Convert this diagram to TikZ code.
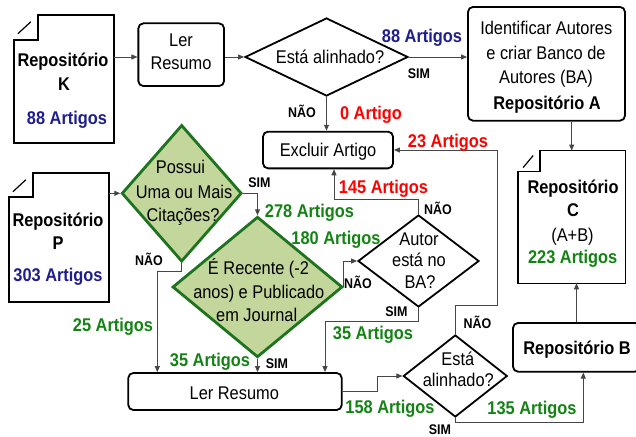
\documentclass[tikz,border=0pt]{standalone}
\usepackage{fontspec}
\setmainfont{Liberation Sans}[FakeStretch=0.89]
\usetikzlibrary{arrows.meta,shapes.geometric,calc}
\definecolor{lblblue}{RGB}{30,30,140}
\definecolor{lblred}{RGB}{255,0,0}
\definecolor{lblgreen}{RGB}{20,130,20}
\definecolor{dfill}{RGB}{195,214,155}
\definecolor{dborder}{RGB}{30,115,30}
\definecolor{conn}{RGB}{70,70,70}
\begin{document}
\begin{tikzpicture}[x=1pt,y=-1pt,
  txt/.style={inner sep=0pt,text height=13.2pt,text depth=0pt,font=\fontsize{18.4}{22}\selectfont},
  btxt/.style={txt,font=\fontsize{18.4}{22}\selectfont\bfseries},
  sml/.style={inner sep=0pt,text height=10pt,text depth=0pt,font=\fontsize{14}{16}\selectfont\bfseries},
  box/.style={draw=black,line width=1.8pt,rounded corners=5pt,inner sep=0pt},
  area/.style={draw=none,inner sep=0pt},
  docline/.style={draw=black,line width=1.5pt,line join=miter},
  gdia/.style={diamond,draw=dborder,fill=dfill,line width=2.8pt,inner sep=0pt},
  bdia/.style={diamond,draw=black,line width=1.8pt,inner sep=0pt},
  arr/.style={draw=conn,line width=0.9pt,-{Triangle[length=6pt,width=5pt]}},
]
\useasboundingbox (0,0) rectangle (636,436);
\fill[white] (0,0) rectangle (636,436);
\clip (0,0) rectangle (636,436);

% ---------- shapes ----------
\node[area,minimum width=100pt,minimum height=128pt] (K) at (64,79) {};
\draw[docline] ($(K.north west)+(24,0)$) -- (K.north east) -- (K.south east) -- (K.south west) -- ($(K.north west)+(0,25)$) -- ($(K.north west)+(24,25)$) -- cycle;
\draw[docline,line width=1.2pt] ($(K.north west)+(4,19)$) -- ($(K.north west)+(17,7)$);

\node[area,minimum width=100pt,minimum height=129pt] (P) at (59,237.5) {};
\draw[docline] ($(P.north west)+(24,0)$) -- (P.north east) -- (P.south east) -- (P.south west) -- ($(P.north west)+(0,24)$) -- ($(P.north west)+(24,24)$) -- cycle;
\draw[docline,line width=1.2pt] ($(P.north west)+(4,19)$) -- ($(P.north west)+(17,7)$);

\node[area,minimum width=106.7pt,minimum height=132.3pt] (RC) at (571.7,216.9) {};
\draw[docline] ($(RC.north west)+(22,0)$) -- (RC.north east) -- (RC.south east) -- (RC.south west) -- ($(RC.north west)+(0,21)$) -- ($(RC.north west)+(22,21)$) -- cycle;
\draw[docline,line width=1.2pt] ($(RC.north west)+(5,17)$) -- ($(RC.north west)+(15,5)$);

\node[box,minimum width=85.7pt,minimum height=62.7pt] (LR1) at (181.2,54.7) {};
\node[box,minimum width=157pt,minimum height=113.7pt] (IA) at (546.5,63.8) {};
\node[box,minimum width=130pt,minimum height=36.7pt] (EX) at (328,150) {};
\node[box,minimum width=213.4pt,minimum height=37pt] (LR2) at (235,391.5) {};
\node[box,minimum width=127pt,minimum height=48.7pt] (RB) at (576.5,347.3) {};

\node[bdia,minimum width=163pt,minimum height=78pt] (D1) at (326.5,57) {};
\node[gdia,minimum width=120pt,minimum height=136.7pt] (D2) at (181.7,193.3) {};
\node[gdia,minimum width=170pt,minimum height=140.6pt] (D3) at (257.5,287) {};
\node[bdia,minimum width=121pt,minimum height=92pt] (D4) at (418.5,261) {};
\node[bdia,minimum width=104pt,minimum height=82pt] (D5) at (455.3,376) {};

% ---------- texts in shapes ----------
\node[btxt] (k1) at (63,59.5) {Repositório};
\node[btxt] (k2) at (64,84) {K};
\node[btxt,text=lblblue] (k3) at (67,118) {88 Artigos};

\node[btxt] (p1) at (58,220) {Repositório};
\node[btxt] (p2) at (58,243) {P};
\node[btxt,text=lblblue] (p3) at (58,275) {303 Artigos};

\node[txt] (lr1a) at (181,39.5) {Ler};
\node[txt] (lr1b) at (181,63.3) {Resumo};

\node[txt] (d1t) at (330,56.7) {Está alinhado?};

\node[txt] (ia1) at (546.3,28.3) {Identificar Autores};
\node[txt] (ia2) at (546,53.3) {e criar Banco de};
\node[txt] (ia3) at (546,77.3) {Autores (BA)};
\node[btxt] (ia4) at (547,103.3) {Repositório A};

\node[txt] (ext) at (328,150) {Excluir Artigo};

\node[txt] (d2a) at (180.5,166.7) {Possui};
\node[txt] (d2b) at (184,191.7) {Uma ou Mais};
\node[txt] (d2c) at (183,215) {Citações?};

\node[txt] (d3a) at (258.5,268.3) {É Recente (-2};
\node[txt] (d3b) at (258.8,291.7) {anos) e Publicado};
\node[txt] (d3c) at (256.7,315) {em Journal};

\node[txt] (d4a) at (419,239) {Autor};
\node[txt] (d4b) at (419,260) {está no};
\node[txt] (d4c) at (420,281.7) {BA?};

\node[txt] (lr2t) at (234.3,393) {Ler Resumo};

\node[txt] (d5a) at (457.8,359.3) {Está};
\node[txt] (d5b) at (458.3,380) {alinhado?};

\node[btxt] (rbt) at (577,348) {Repositório B};

\node[btxt] (rc1) at (573,187) {Repositório};
\node[btxt] (rc2) at (573,210) {C};
\node[txt] (rc3) at (572.5,235) {(A+B)};
\node[btxt,text=lblgreen] (rc4) at (572.7,257) {223 Artigos};

% ---------- helper coordinates ----------
\coordinate (c1) at (157.3,271.7);
\coordinate (c2) at (334,199);
\coordinate (c3) at (325,321);
\coordinate (c4) at (377,391.5);
\coordinate (c5) at (497,305);
\coordinate (c6) at (583.3,422.7);

% ---------- connectors ----------
\draw[arr] (K.east |- D1.west) -- (LR1.west |- D1.west);
\draw[arr] (LR1.east |- D1.west) -- (D1.west);
\draw[arr] (D1.east) -- (D1.east -| IA.west);
\draw[arr] (D1.south) -- (D1.south |- EX.north);
\draw[arr] (IA.south -| RC.north) -- (RC.north);
\draw[arr] (P.east |- D2.west) -- (D2.west);
\draw[arr] (D2.east) -| (D3.north);
\draw[arr] (D2.south) |- (c1) -- (c1 |- LR2.north);
\draw[arr] (D3.south) -- (D3.south |- LR2.north);
\draw[arr] (D3.east) |- (D4.west);
\draw[arr] (D4.north) |- (c2) -- (c2 |- EX.south);
\draw[arr] (D4.south) |- (c3) -- (c3 |- LR2.north);
\draw[arr] (LR2.east) -- (c4) |- (D5.west);
\draw[arr] (D5.north) |- (c5) |- (EX.east);
\draw[arr] (D5.south) |- (c6) -- (c6 |- RB.south);
\draw[arr] (RB.north) -- (RB.north |- RC.south);

% ---------- connector labels ----------
\node[btxt,text=lblblue] (l1) at (422,36) {88 Artigos};
\node[sml] (l2) at (419,73) {SIM};
\node[sml] (l3) at (302,112) {NÃO};
\node[btxt,text=lblred] (l4) at (371,112.5) {0 Artigo};
\node[btxt,text=lblred] (l5) at (448,141) {23 Artigos};
\node[btxt,text=lblred] (l6) at (383.5,187) {145 Artigos};
\node[sml] (l7) at (438,209) {NÃO};
\node[sml] (l8) at (259.5,182) {SIM};
\node[btxt,text=lblgreen] (l9) at (309.5,211) {278 Artigos};
\node[btxt,text=lblgreen] (l10) at (336,238.3) {180 Artigos};
\node[sml] (l11) at (358,283) {NÃO};
\node[sml] (l12) at (149,260) {NÃO};
\node[btxt,text=lblgreen] (l13) at (113,325) {25 Artigos};
\node[btxt,text=lblgreen] (l14) at (210,360) {35 Artigos};
\node[sml] (l15) at (277,363.3) {SIM};
\node[sml] (l16) at (396.5,311.7) {SIM};
\node[btxt,text=lblgreen] (l17) at (373,333) {35 Artigos};
\node[btxt,text=lblgreen] (l18) at (390,406.7) {158 Artigos};
\node[sml] (l19) at (477.5,323) {NÃO};
\node[sml] (l20) at (440,429.5) {SIM};
\node[btxt,text=lblgreen] (l21) at (532,408.3) {135 Artigos};
\end{tikzpicture}
\end{document}
